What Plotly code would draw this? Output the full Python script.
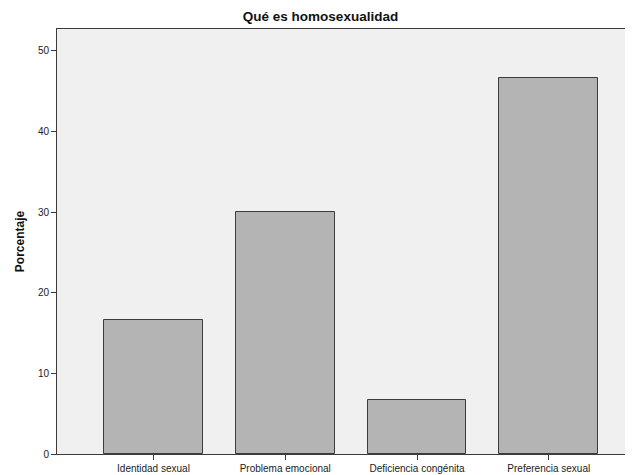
import plotly.graph_objects as go

categories = ["Identidad sexual", "Problema emocional", "Deficiencia congénita", "Preferencia sexual"]
percentages = [16.67, 30.0, 6.67, 46.67]
y_ticks = [0, 10, 20, 30, 40, 50]

fig = go.Figure(go.Bar(
    x=list(range(len(categories))),
    y=percentages,
    width=0.75,
    marker=dict(color="#B4B4B4", line=dict(color="#3C3C3C", width=1)),
))

# page body has an 8px default margin, so the figure is sized/offset to compensate
fig.update_layout(
    width=625, height=467,
    paper_bgcolor="white",
    plot_bgcolor="#F0F0F0",
    margin=dict(l=49, r=1, t=21, b=13),
    font=dict(family="Liberation Sans, Arial", size=10, color="#222"),
    title=dict(text="<b>Qué es homosexualidad</b>", x=0.5, xanchor="center",
               yref="container", y=1 - 8 / 467, yanchor="middle",
               font=dict(size=13.5, color="#111")),
    showlegend=False,
    bargap=0,
)
fig.update_xaxes(
    range=[-0.732, 3.624],
    tickvals=list(range(len(categories))),
    ticktext=categories,
    ticks="outside", ticklen=5, tickcolor="#3C3C3C",
    showline=True, linecolor="#3C3C3C", linewidth=1, mirror=True,
    showgrid=False, zeroline=False,
    tickfont=dict(size=10),
)
fig.update_yaxes(
    range=[0, 52.7],
    tickvals=y_ticks,
    ticks="outside", ticklen=5, tickcolor="#3C3C3C",
    showline=True, linecolor="#3C3C3C", linewidth=1, mirror=True,
    showgrid=False, zeroline=False,
    tickfont=dict(size=10),
    title=dict(text="<b>Porcentaje</b>", font=dict(size=12, color="#111"), standoff=10),
)

fig.write_html("out.html")
